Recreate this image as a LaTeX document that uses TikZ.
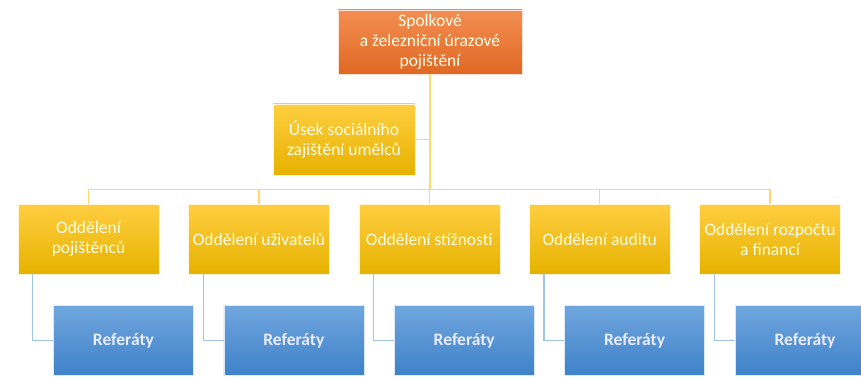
\documentclass[tikz,border=0pt]{standalone}
\usepackage{fontspec}
\setmainfont{Carlito}
\usetikzlibrary{positioning,calc}
\definecolor{orangetop}{RGB}{243,142,82}
\definecolor{orangebot}{RGB}{224,104,36}
\definecolor{yellowtop}{RGB}{255,206,64}
\definecolor{yellowbot}{RGB}{230,178,0}
\definecolor{bluetop}{RGB}{112,166,222}
\definecolor{bluebot}{RGB}{62,130,200}
\definecolor{yline}{RGB}{255,217,110}
\definecolor{bline}{RGB}{160,196,232}

\begin{document}
\begin{tikzpicture}[x=1pt, y=-1pt,
      node distance=29pt and 29pt,
      box/.style={draw=white!80!yellowtop, line width=0.4pt, align=center, inner sep=1pt,
        font=\fontsize{17.5}{20}\selectfont, text=white!90!yellow},
      headbox/.style={box, top color=orangetop, bottom color=orangebot, draw=white!75!orangetop,
        minimum width=184pt, minimum height=64pt},
      deptbox/.style={box, top color=yellowtop, bottom color=yellowbot,
        minimum width=141pt, minimum height=70pt},
      refbox/.style={box, top color=bluetop, bottom color=bluebot, draw=white!75!bluetop,
        font=\fontsize{17.5}{20}\selectfont\bfseries,
        text=white!92!blue, minimum width=140pt, minimum height=70pt},
      yconn/.style={yline, line width=1.3pt},
      bconn/.style={bline, line width=1.3pt}]
    \clip (0,0) rectangle (861,377);
    \fill[white] (0,0) rectangle (861,377);
    % top and assistant
    \node[headbox] (top) at (430,42) {Spolkové\\a železniční úrazové\\pojištění};
    \node[deptbox, minimum width=142pt, minimum height=71pt] (usek) at (344,139.5) {Úsek sociálního\\zajištění umělců};
    % departments
    \node[deptbox] (pojist) at (88.5,239) {Oddělení\\pojištěnců};
    \node[deptbox, right=of pojist] (uziv) {Oddělení uživatelů};
    \node[deptbox, right=of uziv] (stiz) {Oddělení stížností};
    \node[deptbox, right=of stiz] (audit) {Oddělení auditu};
    \node[deptbox, right=of audit] (rozp) {Oddělení rozpočtu\\a financí};
    % referaty
    \node[refbox, below right=31pt and -106pt of pojist] (ref1) {Referáty};
    \node[refbox, below right=31pt and -106pt of uziv] (ref2) {Referáty};
    \node[refbox, below right=31pt and -106pt of stiz] (ref3) {Referáty};
    \node[refbox, below right=31pt and -106pt of audit] (ref4) {Referáty};
    \node[refbox, below right=31pt and -106pt of rozp] (ref5) {Referáty};
    % connectors
    \coordinate (bus) at ($(top.south)+(0,115)$);
    \draw[yconn] (top.south) -- (bus);
    \draw[yconn] (usek.east) -- (usek.east -| top.south);
    \draw[yconn] (pojist.north) |- (bus) -| (rozp.north);
    \draw[yconn] (uziv.north) -- (uziv.north |- bus);
    \draw[yconn] (stiz.north) -- (stiz.north |- bus);
    \draw[yconn] (audit.north) -- (audit.north |- bus);
    \draw[bconn] ($(pojist.south west)+(15,0)$) |- (ref1.west);
    \draw[bconn] ($(uziv.south west)+(15,0)$) |- (ref2.west);
    \draw[bconn] ($(stiz.south west)+(15,0)$) |- (ref3.west);
    \draw[bconn] ($(audit.south west)+(15,0)$) |- (ref4.west);
    \draw[bconn] ($(rozp.south west)+(15,0)$) |- (ref5.west);
  \end{tikzpicture}
\end{document}
